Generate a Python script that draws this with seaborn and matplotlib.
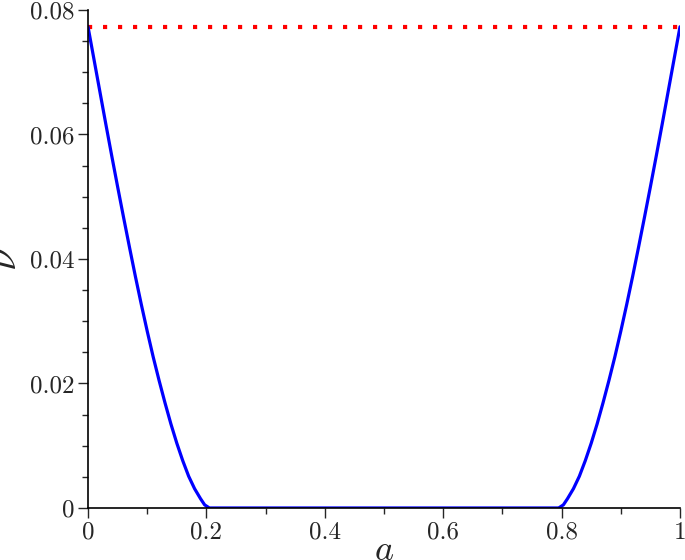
import numpy as np
import pandas as pd
import matplotlib
matplotlib.use('Agg')
import matplotlib.pyplot as plt
from matplotlib.ticker import FixedLocator, MultipleLocator
import seaborn as sns

# blue curve, left branch
a_left = [0.0, 0.01, 0.02, 0.03, 0.04, 0.05, 0.06, 0.07, 0.08, 0.09, 0.10,
          0.11, 0.12, 0.13, 0.14, 0.15, 0.16, 0.17, 0.18, 0.19, 0.197, 0.205]
nu_left = [0.0773, 0.0721, 0.0669, 0.0617, 0.0566, 0.0516, 0.0467, 0.0419,
           0.0372, 0.0327, 0.0284, 0.0243, 0.0205, 0.0169, 0.0135, 0.0104,
           0.0076, 0.0051, 0.0031, 0.0015, 0.0005, 0.0]

# flat part
a_mid = [0.205, 0.795]
nu_mid = [0.0, 0.0]

# right branch
a_right = [0.795, 0.803, 0.81, 0.82, 0.83, 0.84, 0.85, 0.86, 0.87, 0.88, 0.89,
           0.90, 0.91, 0.92, 0.93, 0.94, 0.95, 0.96, 0.97, 0.98, 0.99, 1.0]
nu_right = [0.0, 0.0005, 0.0015, 0.0031, 0.0051, 0.0076, 0.0104, 0.0135,
            0.0169, 0.0205, 0.0243, 0.0284, 0.0327, 0.0372, 0.0419, 0.0467,
            0.0516, 0.0566, 0.0617, 0.0669, 0.0721, 0.0773]

# red dotted reference level
a_ref = [0.0, 1.0]
nu_ref = [0.0773, 0.0773]

y_ticks = [0, 0.02, 0.04, 0.06, 0.08]
y_labels = ['0', '0.02', '0.04', '0.06', '0.08']
x_ticks = [0, 0.2, 0.4, 0.6, 0.8, 1.0]
x_labels = ['0', '0.2', '0.4', '0.6', '0.8', '1']

sns.set_style('ticks')
plt.rcParams['font.family'] = ['cmr10', 'DejaVu Serif']
plt.rcParams['mathtext.fontset'] = 'cm'
plt.rcParams['axes.formatter.use_mathtext'] = True

curve = pd.DataFrame({
    'a': a_left + a_mid + a_right,
    'nu': nu_left + nu_mid + nu_right,
})
ref = pd.DataFrame({'a': a_ref, 'nu': nu_ref})

fig = plt.figure(figsize=(6.85, 5.6), dpi=100)
ax = fig.add_axes([0.1285, 0.0929, 0.8642, 0.8893])

sns.lineplot(data=ref, x='a', y='nu', ax=ax, color='#ff0000', linewidth=3,
             linestyle=(0, (1, 2.6)), sort=False, estimator=None)
ax.lines[-1].set_dash_capstyle('butt')
sns.lineplot(data=curve, x='a', y='nu', ax=ax, color='#0000ff', linewidth=2.3,
             sort=False, estimator=None)
ax.lines[-1].set_solid_joinstyle('round')

ax.set_xlim(0, 1)
ax.set_ylim(0, 0.08)
ax.xaxis.set_major_locator(FixedLocator(x_ticks))
ax.set_xticklabels(x_labels)
ax.xaxis.set_minor_locator(MultipleLocator(0.1))
ax.yaxis.set_major_locator(FixedLocator(y_ticks))
ax.set_yticklabels(y_labels)
ax.yaxis.set_minor_locator(MultipleLocator(0.005))

ax.tick_params(which='major', length=7, width=1, labelsize=18, pad=3, direction='out')
ax.tick_params(which='minor', length=4, width=1, direction='out')

for s in ['top', 'right']:
    ax.spines[s].set_visible(False)
for s in ['left', 'bottom']:
    ax.spines[s].set_linewidth(1.2)
    ax.spines[s].set_color('black')

ax.set_xlabel(r'$a$', fontsize=26, labelpad=-6)
ax.set_ylabel(r'$\nu$', fontsize=30, labelpad=4)

fig.savefig('out.png', dpi=100)
